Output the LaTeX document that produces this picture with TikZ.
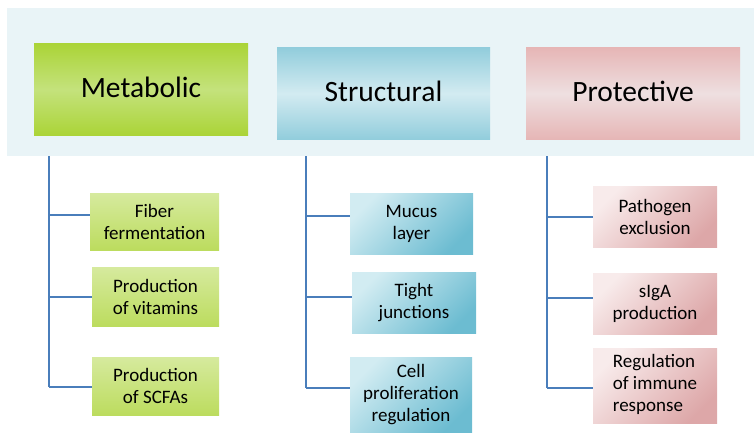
\documentclass[tikz,border=0pt]{standalone}
\usepackage{fontspec}
\setmainfont{Carlito}
\definecolor{panelc}{HTML}{E9F4F7}
\definecolor{linec}{HTML}{4A7EBB}
\definecolor{gdark}{HTML}{ABD438}
\definecolor{glight}{HTML}{C4E27C}
\definecolor{bdark}{HTML}{92CDDC}
\definecolor{blight}{HTML}{D3EBF1}
\definecolor{pdark}{HTML}{E6B6B6}
\definecolor{plight}{HTML}{EEDFE0}
\definecolor{gctop}{HTML}{D6EA9E}
\definecolor{gcbot}{HTML}{BCDC5E}
\definecolor{bctl}{HTML}{D2ECF2}
\definecolor{bcbr}{HTML}{6CBCD1}
\definecolor{pctl}{HTML}{F8EBEB}
\definecolor{pcbr}{HTML}{DDA7A8}
\newcommand{\hraise}[1]{\raisebox{4pt}{#1}}
\tikzset{
  head/.style={inner sep=0pt, font=\fontsize{29.5}{33}\selectfont, text=black},
  greenhead/.style={head, top color=gdark, bottom color=gdark, middle color=glight},
  bluehead/.style={head, top color=bdark, bottom color=bdark, middle color=blight},
  pinkhead/.style={head, top color=pdark, bottom color=pdark, middle color=plight},
  child/.style={inner sep=0pt, align=center, font=\fontsize{19}{22}\selectfont, text=black},
  greenchild/.style={child, top color=gctop, bottom color=gcbot},
  bluechild/.style={child, top color=bctl, bottom color=bcbr, shading angle=45},
  pinkchild/.style={child, top color=pctl, bottom color=pcbr, shading angle=45},
  conn/.style={draw=linec, line width=2pt},
}
\begin{document}
\begin{tikzpicture}[x=1pt, y=-1pt]
\useasboundingbox (0,0) rectangle (754,433);
\fill[panelc] (7,8) rectangle (754,156);

\node[greenhead, minimum width=214pt, minimum height=91pt] (met) at (141,89.5) {\hraise{Metabolic}};
\node[bluehead, minimum width=213pt, minimum height=91pt] (str) at (383.5,93.5) {\hraise{Structural}};
\node[pinkhead, minimum width=214pt, minimum height=91pt] (pro) at (633,93.5) {\hraise{Protective}};

\node[greenchild, minimum width=129pt, minimum height=57pt] (m1) at (154.5,221.5) {Fiber\\fermentation};
\node[greenchild, minimum width=127pt, minimum height=59pt] (m2) at (155.5,296.5) {Production\\of vitamins};
\node[greenchild, minimum width=127pt, minimum height=58pt] (m3) at (155.5,386) {Production\\of SCFAs};

\node[bluechild, minimum width=123pt, minimum height=61pt] (s1) at (411.5,223.5) {Mucus\\layer};
\node[bluechild, minimum width=124pt, minimum height=61pt] (s2) at (414,302.5) {Tight\\junctions};
\node[bluechild, minimum width=122pt, minimum height=76pt] (s3) at (411,395) {Cell\\proliferation\\regulation};

\node[pinkchild, minimum width=124pt, minimum height=61pt] (p1) at (655,216.5) {Pathogen\\exclusion};
\node[pinkchild, minimum width=124pt, minimum height=61pt] (p2) at (655,303.5) {sIgA\\production};
\node[pinkchild, minimum width=124pt, minimum height=75pt] (p3) at (655,385.5) {\begin{tabular}{@{}l@{}}Regulation\\of immune\\response\end{tabular}};

% metabolic connectors
\coordinate (mtop) at (49,156);
\coordinate (mb1) at (49,215);
\coordinate (mb2) at (49,297);
\coordinate (mb3) at (49,387);
\draw[conn] (mtop) -- (mb3);
\draw[conn] (mb1) -- (mb1 -| m1.west);
\draw[conn] (mb2) -- (mb2 -| m2.west);
\draw[conn] (mb3) -- (mb3 -| m3.west);

% structural connectors
\coordinate (stop) at (306,156);
\coordinate (sb1) at (306,216);
\coordinate (sb2) at (306,297);
\coordinate (sb3) at (306,388);
\draw[conn] (stop) -- (sb3);
\draw[conn] (sb1) -- (sb1 -| s1.west);
\draw[conn] (sb2) -- (sb2 -| s2.west);
\draw[conn] (sb3) -- (sb3 -| s3.west);

% protective connectors
\coordinate (ptop) at (547,156);
\coordinate (pb1) at (547,217);
\coordinate (pb2) at (547,298);
\coordinate (pb3) at (547,388);
\draw[conn] (ptop) -- (pb3);
\draw[conn] (pb1) -- (pb1 -| p1.west);
\draw[conn] (pb2) -- (pb2 -| p2.west);
\draw[conn] (pb3) -- (pb3 -| p3.west);
\end{tikzpicture}
\end{document}
